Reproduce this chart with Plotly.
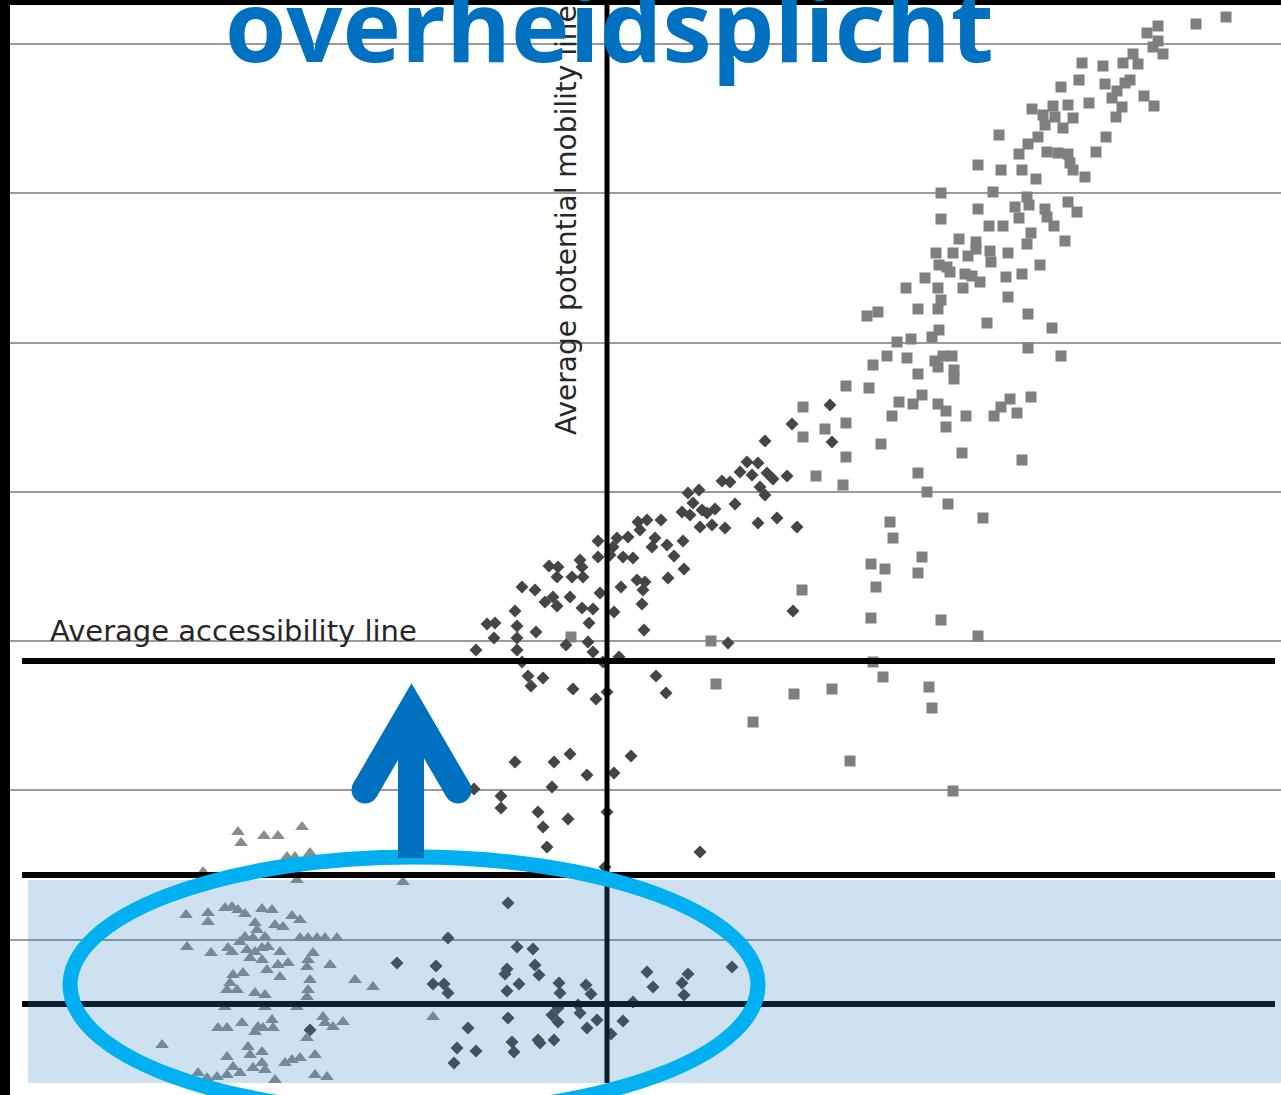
import plotly.graph_objects as go

# ---- data (chart units) ----
sq_x = [122.6,119.6,115.8,114.7,115.8,115.3,116.3,113.3,113.8,112.3,110.3,108.2,113.0,112.5,107.9,110.5,106.1,111.7,111.2,114.4,
        115.4,112.2,111.6,108.9,103.2,105.3,106.8,104.3,105.5,107.3,104.5,106.3,103.8,110.6,99.9,102.8,101.9,104.7,105.8,106.8,
        109.6,107.0,107.3,108.5,97.8,100.1,102.2,103.6,94.1,99.3,102.7,102.9,101.5,97.8,104.5,104.7,105.4,106.8,107.7,94.1,
        98.9,100.3,101.9,103.1,102.7,106.5,95.9,97.6,97.6,99.0,99.1,96.8,95.3,93.6,100.8,104.0,93.9,94.7,95.0,96.5,
        97.2,98.0,100.6,102.2,92.5,90.6,93.8,96.3,100.8,94.1,93.8,91.8,87.8,86.7,102.8,98.7,105.2,93.9,93.2,89.7,
        91.1,102.8,106.1,88.7,90.7,87.3,93.5,94.3,95.2,93.8,95.4,95.4,91.8,84.6,86.9,92.2,89.9,91.3,93.8,94.6,
        89.2,96.6,99.4,100.1,101.0,101.7,103.1,84.6,82.5,80.3,80.3,94.6,84.6,88.1,96.2,102.2,81.6,84.3,91.8,92.7,
        94.8,98.3,89.0,89.3,87.1,88.5,92.2,91.8,87.6,80.2,87.1,94.1,97.8,71.1,87.3,88.3,71.6,79.4,83.2,92.9,
        93.2,75.3,85.0,95.3,57.1]
sq_y = [107.2,106.5,106.3,105.6,104.8,104.2,103.5,103.5,102.5,102.6,102.3,102.6,100.9,100.6,100.9,100.5,100.2,99.8,99.1,99.3,
        98.3,98.2,97.2,98.6,98.0,98.3,98.4,97.4,97.2,97.1,96.4,96.1,95.2,95.2,95.4,94.5,93.5,93.7,93.6,93.5,
        93.7,92.6,91.9,91.2,92.4,91.9,91.9,91.0,89.6,89.7,89.2,88.4,88.2,88.0,88.0,87.2,86.3,88.7,87.7,87.0,
        86.3,86.3,87.1,85.6,84.5,84.8,85.0,84.7,84.0,83.8,82.7,83.3,83.6,83.6,83.6,82.4,82.4,82.2,81.7,81.5,
        81.3,80.7,81.2,81.5,81.1,80.1,80.1,80.1,79.2,78.9,78.0,78.0,77.7,77.3,77.5,76.6,76.1,75.9,75.2,74.7,
        75.0,74.1,73.3,73.3,73.1,72.4,72.8,73.3,73.3,72.2,71.9,71.0,71.5,70.3,70.1,69.4,68.7,68.5,68.5,67.8,
        67.3,67.3,67.3,68.2,69.0,67.6,69.2,66.6,66.0,68.2,65.2,66.2,63.2,64.5,63.6,62.9,61.3,60.4,61.6,59.7,
        58.5,57.1,56.7,55.1,52.5,52.0,53.2,51.6,50.2,49.9,47.1,46.9,45.3,44.8,42.7,41.2,40.5,39.5,40.0,40.2,
        38.1,36.7,32.8,29.8,45.2]

dm_x = [74.7,75.8,74.0,75.2,76.7,77.3,78.7,72.2,73.0,76.0,76.5,68.8,69.9,69.3,68.2,69.0,70.2,71.5,70.7,73.5,
        70.0,71.2,72.5,75.8,77.7,79.7,63.8,64.7,66.1,64.0,62.8,61.7,59.8,65.5,66.7,68.3,61.3,61.0,59.8,62.3,
        63.3,67.4,65.2,58.0,58.2,54.9,55.8,57.2,58.3,55.7,68.4,66.8,63.7,64.5,64.3,52.2,53.5,57.0,60.0,62.1,
        54.5,55.3,55.7,64.2,58.2,59.3,61.4,51.5,58.9,48.7,49.5,51.7,53.6,64.4,49.4,51.7,47.6,51.7,56.6,58.8,
        59.3,61.9,60.3,72.8,79.3,52.2,52.8,54.3,53.1,57.3,59.6,60.7,65.6,66.6,83.0,83.2,76.5,79.2,
        51.5,55.4,57.0,58.7,61.4,63.1,47.4,50.1,50.1,55.2,53.8,54.3,56.8,54.7,60.7,70.0,60.5,50.8,44.8,51.7,
        53.3,39.7,43.6,50.7,50.5,53.5,53.9,43.3,44.4,44.8,51.9,50.7,55.9,56.0,58.6,59.1,64.7,65.3,68.8,68.2,
        68.4,73.2,63.3,55.8,57.8,58.0,55.2,55.8,59.7,58.7,62.3,61.1,50.8,46.8,51.2,51.4,53.8,54.0,55.4,45.7,
        47.6,45.4,31.0]
dm_y = [62.7,62.6,61.7,61.4,61.6,61.0,61.3,60.8,60.7,60.2,59.4,59.6,59.9,58.6,57.7,57.4,57.9,58.0,57.6,58.5,
        56.2,56.4,56.1,56.6,57.1,56.2,56.7,56.9,56.9,55.9,55.2,55.1,54.8,55.1,54.4,54.8,54.2,53.4,53.2,53.2,
        53.1,53.3,54.2,52.9,52.2,52.3,52.2,51.2,51.2,51.2,52.0,51.1,50.9,50.7,49.9,50.2,49.9,49.2,49.6,50.2,
        48.7,49.2,48.3,48.5,48.1,48.0,47.7,47.8,46.6,46.5,46.6,46.3,45.7,45.9,45.1,45.1,43.9,43.9,44.4,44.7,
        43.7,43.2,42.7,44.6,47.8,42.7,41.3,41.1,40.3,40.0,39.0,39.7,41.3,39.6,68.4,64.7,64.8,66.5,
        32.7,32.7,33.5,31.4,31.6,33.3,30.0,29.3,28.1,30.2,27.7,26.2,27.0,24.2,27.7,23.7,22.2,18.6,15.1,14.2,
        14.0,12.6,12.3,12.0,11.5,12.4,11.4,10.5,10.5,9.6,10.5,9.8,10.6,9.6,10.4,9.5,11.7,10.2,11.5,10.6,
        9.4,12.2,8.7,8.1,8.4,7.6,7.4,6.7,6.9,6.1,6.8,5.5,7.1,6.1,4.7,3.7,4.9,4.6,4.9,4.1,
        3.8,2.6,5.9]

tr_x = [23.8,24.1,26.4,27.8,30.2,28.7,29.5,31.0,20.3,29.7,40.3,18.6,20.8,20.8,22.5,23.2,23.8,24.5,26.2,27.2,
        29.2,30.0,27.5,28.3,25.5,25.7,24.5,25.3,26.5,24.0,18.7,21.1,22.8,23.2,30.0,30.8,31.7,32.5,33.7,24.7,
        25.5,26.2,26.8,25.0,26.2,28.0,31.3,27.8,28.8,30.7,30.8,33.0,26.7,23.3,24.3,28.0,23.0,22.7,23.7,31.0,
        30.8,30.7,35.5,37.3,25.5,26.5,22.5,26.5,29.7,32.3,32.5,33.3,34.3,27.2,27.3,26.3,25.5,25.8,24.2,21.8,
        22.7,30.7,16.2,24.8,25.0,26.2,22.7,31.5,28.5,29.2,30.0,26.2,26.5,25.3,23.3,24.0,22.7,21.7,20.7,19.8,
        31.5,32.7,27.5,43.3]
tr_y = [25.7,24.6,25.3,25.3,26.2,23.2,23.2,23.6,21.7,20.9,20.7,17.4,17.6,16.7,18.1,18.2,17.9,17.5,18.0,17.9,
        17.3,16.9,16.4,16.2,16.6,15.9,15.2,15.1,15.2,14.7,14.2,13.6,14.1,13.7,15.1,15.1,15.1,15.1,15.1,13.9,
        13.7,14.1,14.2,13.1,12.9,13.7,13.6,12.4,12.6,12.2,12.9,12.4,11.9,11.4,11.6,11.2,10.6,9.9,9.9,10.9,
        9.9,9.2,10.9,10.2,9.6,9.4,8.2,8.2,8.2,7.2,6.6,6.2,6.7,6.9,6.1,6.1,5.7,6.2,6.6,6.1,
        6.1,5.1,4.4,4.2,3.4,3.7,3.2,3.4,2.6,2.9,3.1,2.6,1.9,2.1,2.2,1.6,1.4,1.2,1.1,1.6,
        1.4,1.2,0.9,7.2]

grid_vals = [14.93, 29.86, 44.79, 59.72, 74.65, 89.58, 104.51]
avg_access_y = 42.8      # average accessibility line
upper_band_y = 21.4
lower_band_y = 8.5
avg_mobility_x = 60.7    # average potential mobility line

fig = go.Figure()
fig.add_trace(go.Scatter(x=sq_x, y=sq_y, mode="markers",
                         marker=dict(symbol="square", size=11, color="#7f7f7f", line=dict(width=0))))
fig.add_trace(go.Scatter(x=dm_x, y=dm_y, mode="markers",
                         marker=dict(symbol="diamond", size=10, color="#454545", line=dict(width=0))))
fig.add_trace(go.Scatter(x=tr_x, y=tr_y, mode="markers",
                         marker=dict(symbol="triangle-up", size=12, color="#8c8c8c", line=dict(width=0))))

shapes = []
shapes.append(dict(type="line", x0=avg_mobility_x, x1=avg_mobility_x, y0=0.6, y1=108.4,
                   line=dict(color="black", width=5)))
shapes.append(dict(type="line", x0=2.2, x1=127.5, y0=lower_band_y, y1=lower_band_y,
                   line=dict(color="black", width=6)))
shapes.append(dict(type="rect", x0=2.8, x1=128.2, y0=0.6, y1=20.9,
                   fillcolor="rgba(47,130,192,0.24)", line=dict(width=0)))
shapes.append(dict(type="line", x0=2.2, x1=127.5, y0=upper_band_y, y1=upper_band_y,
                   line=dict(color="black", width=6)))
shapes.append(dict(type="line", x0=2.2, x1=127.5, y0=avg_access_y, y1=avg_access_y,
                   line=dict(color="black", width=6)))
shapes.append(dict(type="circle", x0=7.0, x1=75.8, y0=-2.4, y1=23.2,
                   line=dict(color="#00B0F0", width=15), fillcolor="rgba(0,0,0,0)"))
blue = "#0070C0"
shapes.append(dict(type="line", x0=41.1, x1=41.1, y0=23.1, y1=36.0, line=dict(color=blue, width=26)))
shapes.append(dict(type="path", path="M 36.5 29.9 L 41.15 37.9 L 45.8 29.9",
                   line=dict(color=blue, width=27)))
for cx in (36.5, 45.8):
    shapes.append(dict(type="circle", x0=cx - 1.35, x1=cx + 1.35, y0=29.9 - 1.35, y1=29.9 + 1.35,
                       fillcolor=blue, line=dict(width=0)))

annotations = [
    dict(text="Average accessibility line", x=4.8, y=43.9, xref="x", yref="y",
         xanchor="left", yanchor="bottom", showarrow=False,
         font=dict(family="DejaVu Sans", size=29, color="#262626")),
    dict(text="Average potential mobility line", x=56.6, y=65.2, xref="x", yref="y",
         xanchor="center", yanchor="bottom", textangle=-90, showarrow=False,
         font=dict(family="DejaVu Sans", size=28, color="#262626")),
    dict(text="<b>overheidsplicht</b>", x=60.9, y=99.6, xref="x", yref="y",
         xanchor="center", yanchor="bottom", showarrow=False,
         font=dict(family="Open Sans", size=99, color=blue)),
]

fig.update_layout(
    width=1281, height=1095,
    margin=dict(l=10, r=0, t=5, b=0),
    paper_bgcolor="black", plot_bgcolor="white",
    showlegend=False,
    shapes=shapes, annotations=annotations,
    xaxis=dict(range=[1.0, 128.1], showgrid=False, zeroline=False, showticklabels=False,
               ticks="", showline=False),
    yaxis=dict(range=[-0.6, 108.4], tickmode="array", tickvals=grid_vals, showgrid=True,
               gridcolor="#9a9a9a", gridwidth=1.5, zeroline=False, showticklabels=False,
               ticks="", showline=False),
)

fig.write_html("out.html", config={"displayModeBar": False},
               post_script="document.body.style.margin='0';document.body.style.background='black';document.body.style.overflow='hidden';")
